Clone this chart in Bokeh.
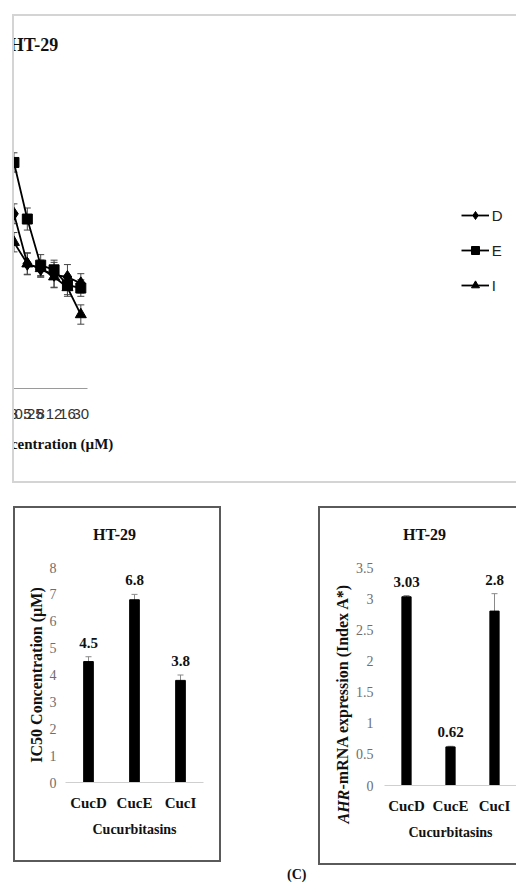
import math
from bokeh.plotting import figure
from bokeh.models import (Range1d, FactorRange, ColumnDataSource, Whisker, Legend, LegendItem,
                          LabelSet, FixedTicker, Div, LinearAxis, Title)
from bokeh.layouts import column, row
from bokeh.embed import file_html
from bokeh.resources import INLINE

# ---------------- data ----------------
concentrations = ["0.25", "1", "3", "5", "8", "12", "16", "30"]
viab_D = [0.786, 0.715, 0.633, 0.452, 0.433, 0.412, 0.404, 0.381]
err_D = [0.035, 0.045, 0.036, 0.038, 0.03, 0.045, 0.045, 0.035]
viab_E = [0.983, 0.901, 0.819, 0.614, 0.447, 0.430, 0.375, 0.364]
err_E = [0.012, 0.037, 0.035, 0.040, 0.038, 0.035, 0.035, 0.030]
viab_I = [0.675, 0.577, 0.530, 0.452, 0.435, 0.405, 0.366, 0.268]
err_I = [0.030, 0.032, 0.035, 0.040, 0.030, 0.040, 0.032, 0.035]
y_ticks_top = [0, 0.1, 0.2, 0.3, 0.4, 0.5, 0.6, 0.7, 0.8, 0.9, 1]
y_tick_labels_top = ["0", "0.1", "0.2", "0.3", "0.4", "0.5", "0.6", "0.7", "0.8", "0.9", "1"]

compounds = ["CucD", "CucE", "CucI"]
ic50 = [4.5, 6.8, 3.8]
ic50_err = [0.18, 0.2, 0.2]
ic50_labels = ["4.5", "6.8", "3.8"]
ic50_ticks = [0, 1, 2, 3, 4, 5, 6, 7, 8]

ahr = [3.03, 0.62, 2.8]
ahr_err = [0.02, 0.01, 0.28]
ahr_labels = ["3.03", "0.62", "2.8"]
ahr_ticks = [0, 0.5, 1, 1.5, 2, 2.5, 3, 3.5]
ahr_tick_labels = ["0", "0.5", "1", "1.5", "2", "2.5", "3", "3.5"]

panel_title = "HT-29"

SERIF = "Liberation Serif"
SANS = "Liberation Sans"


def blank_axis(ticks=(), **kw):
    return LinearAxis(ticker=FixedTicker(ticks=list(ticks)), axis_line_color=None,
                      major_tick_line_color=None, minor_tick_line_color=None,
                      major_tick_in=0, major_tick_out=0, **kw)


# ---------------- top line chart ----------------
top = figure(width=504, height=469, x_range=FactorRange(*concentrations),
             y_range=Range1d(0, 1), output_backend="svg", toolbar_location=None,
             min_border_left=73, min_border_right=63, min_border_top=96, min_border_bottom=97,
             margin=(14, 0, 0, 12),
             styles={"border-left": "2px solid #d4d4d4", "border-top": "2px solid #d4d4d4",
                     "border-bottom": "2px solid #d4d4d4", "box-sizing": "border-box"})
top.outline_line_color = None
top.xgrid.grid_line_color = None
top.ygrid.grid_line_color = None

top.yaxis.ticker = FixedTicker(ticks=y_ticks_top)
top.yaxis.major_label_overrides = {t: l for t, l in zip(y_ticks_top, y_tick_labels_top)}
top.yaxis.minor_tick_line_color = None
top.yaxis.major_tick_out = 5
top.yaxis.major_tick_in = 0
top.yaxis.major_tick_line_color = "#9a9a9a"
top.yaxis.axis_line_color = "#9a9a9a"
top.yaxis.major_label_text_font = SANS
top.yaxis.major_label_text_font_size = "15px"
top.yaxis.major_label_text_color = "#333333"
top.yaxis.major_label_standoff = 7
top.yaxis.axis_label = "Cell Viability"
top.yaxis.axis_label_text_font = SERIF
top.yaxis.axis_label_text_font_style = "bold"
top.yaxis.axis_label_text_font_size = "17px"
top.yaxis.axis_label_text_color = "#111111"
top.yaxis.axis_label_standoff = 1

top.xaxis.axis_line_color = "#9a9a9a"
top.xaxis.major_tick_line_color = None
top.xaxis.major_tick_out = 0
top.xaxis.major_label_text_font = SANS
top.xaxis.major_label_text_font_size = "15px"
top.xaxis.major_label_text_color = "#333333"
top.xaxis.major_label_standoff = 20
top.xaxis.axis_label = "Cuc Concentration (\u00b5M)"
top.xaxis.axis_label_text_font = SERIF
top.xaxis.axis_label_text_font_style = "bold"
top.xaxis.axis_label_text_font_size = "15px"
top.xaxis.axis_label_text_color = "#111111"
top.xaxis.axis_label_standoff = 14

top.add_layout(blank_axis(axis_label=panel_title, axis_label_standoff=58,
                          axis_label_text_font=SERIF, axis_label_text_font_style="bold",
                          axis_label_text_font_size="18px", axis_label_text_color="#111111"),
               "above")

items = []
for name, vals, errs, marker, msize in [("D", viab_D, err_D, "diamond", 13),
                                        ("E", viab_E, err_E, "square", 10),
                                        ("I", viab_I, err_I, "triangle", 11)]:
    src = ColumnDataSource(dict(x=concentrations, y=vals,
                                lo=[v - e for v, e in zip(vals, errs)],
                                hi=[v + e for v, e in zip(vals, errs)]))
    w = Whisker(base="x", lower="lo", upper="hi", source=src, dimension="height",
                line_color="#444444", line_width=1)
    w.upper_head.size = 7
    w.lower_head.size = 7
    w.upper_head.line_color = "#444444"
    w.lower_head.line_color = "#444444"
    top.add_layout(w)
    ln = top.line("x", "y", source=src, line_color="black", line_width=1.8)
    sc = top.scatter("x", "y", source=src, marker=marker, size=msize,
                     fill_color="black", line_color="black")
    items.append(LegendItem(label=name, renderers=[ln, sc]))

# legend in the right-hand side panel (outside the plot frame)
legend = Legend(items=items, location="center_left", margin=12, padding=0, spacing=15,
                glyph_width=28, glyph_height=20, label_standoff=3, label_width=11,
                label_text_font=SANS, label_text_font_size="15px",
                label_text_color="#222222", border_line_color=None,
                background_fill_alpha=0)
top.add_layout(legend, "right")


# ---------------- bar charts ----------------
def bar_fig(width, height, bl, br, bt, bb, ymax, margin, border):
    f = figure(width=width, height=height, x_range=FactorRange(*compounds),
               y_range=Range1d(0, ymax), output_backend="svg", toolbar_location=None,
               min_border_left=bl, min_border_right=br, min_border_top=bt, min_border_bottom=bb,
               margin=margin, styles=border)
    f.outline_line_color = None
    f.xgrid.grid_line_color = None
    f.ygrid.grid_line_color = None
    f.yaxis.axis_line_color = None
    f.yaxis.major_tick_line_color = None
    f.yaxis.minor_tick_line_color = None
    f.yaxis.major_tick_out = 0
    f.yaxis.major_tick_in = 0
    f.yaxis.major_label_text_font = SERIF
    f.yaxis.major_label_text_font_size = "14px"
    f.yaxis.major_label_text_color = "#6e6e6e"
    f.yaxis.major_label_standoff = 9
    f.xaxis.axis_line_color = "#cfcfcf"
    f.xaxis.major_tick_line_color = None
    f.xaxis.major_tick_out = 0
    f.xaxis.major_tick_in = 0
    f.xaxis.major_label_text_font = SERIF
    f.xaxis.major_label_text_font_style = "bold"
    f.xaxis.major_label_text_font_size = "15px"
    f.xaxis.major_label_text_color = "#111111"
    f.xaxis.major_label_standoff = 12
    f.xaxis.axis_label = "Cucurbitasins"
    f.xaxis.axis_label_text_font = SERIF
    f.xaxis.axis_label_text_font_style = "bold"
    f.xaxis.axis_label_text_font_size = "14px"
    f.xaxis.axis_label_text_color = "#111111"
    f.xaxis.axis_label_standoff = 8
    return f


def add_bars(f, vals, errs, labels):
    src = ColumnDataSource(dict(x=compounds, top=vals,
                                lo=[v - e for v, e in zip(vals, errs)],
                                hi=[v + e for v, e in zip(vals, errs)],
                                lab=labels))
    f.vbar(x="x", top="top", width=0.21, source=src, fill_color="black", line_color="black")
    w = Whisker(base="x", lower="lo", upper="hi", source=src, dimension="height",
                line_color="#8a8a8a", line_width=1)
    w.upper_head.size = 6
    w.lower_head.size = 6
    w.upper_head.line_color = "#8a8a8a"
    w.lower_head.line_color = "#8a8a8a"
    f.add_layout(w)
    f.add_layout(LabelSet(x="x", y="hi", text="lab", source=src, y_offset=9,
                          text_align="center", text_baseline="bottom",
                          text_font=SERIF, text_font_style="bold", text_font_size="15px",
                          text_color="#111111"))


def add_title(f, xpos):
    # panel title drawn as the single tick label of an otherwise blank top axis
    f.add_layout(blank_axis(ticks=[xpos], major_label_overrides={xpos: panel_title},
                            major_label_standoff=25, major_label_text_font=SERIF,
                            major_label_text_font_style="bold",
                            major_label_text_font_size="16px",
                            major_label_text_color="#111111"), "above")


bl = bar_fig(208, 356, 50, 20, 59, 81, 8, (23, 0, 0, 13),
             {"border": "2px solid #5a5a5a", "box-sizing": "border-box"})
bl.yaxis.ticker = FixedTicker(ticks=ic50_ticks)
bl.yaxis.axis_label = "IC50 Concentration (\u00b5M)"
bl.yaxis.axis_label_text_font = SERIF
bl.yaxis.axis_label_text_font_style = "bold"
bl.yaxis.axis_label_text_font_size = "16px"
bl.yaxis.axis_label_text_color = "#111111"
bl.yaxis.axis_label_standoff = 2
add_bars(bl, ic50, ic50_err, ic50_labels)
add_title(bl, 1.065)

br = bar_fig(198, 359, 64, 2, 59, 82, 3.5, (23, 0, 0, 97),
             {"border-left": "2px solid #5a5a5a", "border-top": "2px solid #5a5a5a",
              "border-bottom": "2px solid #5a5a5a", "box-sizing": "border-box"})
br.yaxis.ticker = FixedTicker(ticks=ahr_ticks)
br.yaxis.major_label_overrides = {t: l for t, l in zip(ahr_ticks, ahr_tick_labels)}
br.yaxis.major_label_standoff = 11
add_bars(br, ahr, ahr_err, ahr_labels)
add_title(br, 0.909)
# y label: "-mRNA expression (Index A*)" upright, preceded on the same line by italic "AHR"
br.add_layout(Title(text="-mRNA expression (Index A*)", align="left", offset=-4,
                    standoff=4, text_font=SERIF, text_font_style="bold",
                    text_font_size="16px", text_color="#111111"), "left")
br.add_layout(Title(text="AHR", align="left", offset=-38,
                    standoff=-44, text_font=SERIF, text_font_style="bold italic",
                    text_font_size="16px", text_color="#111111"), "left")

caption = Div(text="<div style=\"font-family:'Liberation Serif';font-weight:bold;"
                   "font-size:14px;color:#111;line-height:16px\">(C)</div>",
              width=40, height=16, margin=(2, 0, 0, 287))

layout = column(top, row(bl, br), caption)

open("out.html", "w").write(file_html(layout, INLINE))
